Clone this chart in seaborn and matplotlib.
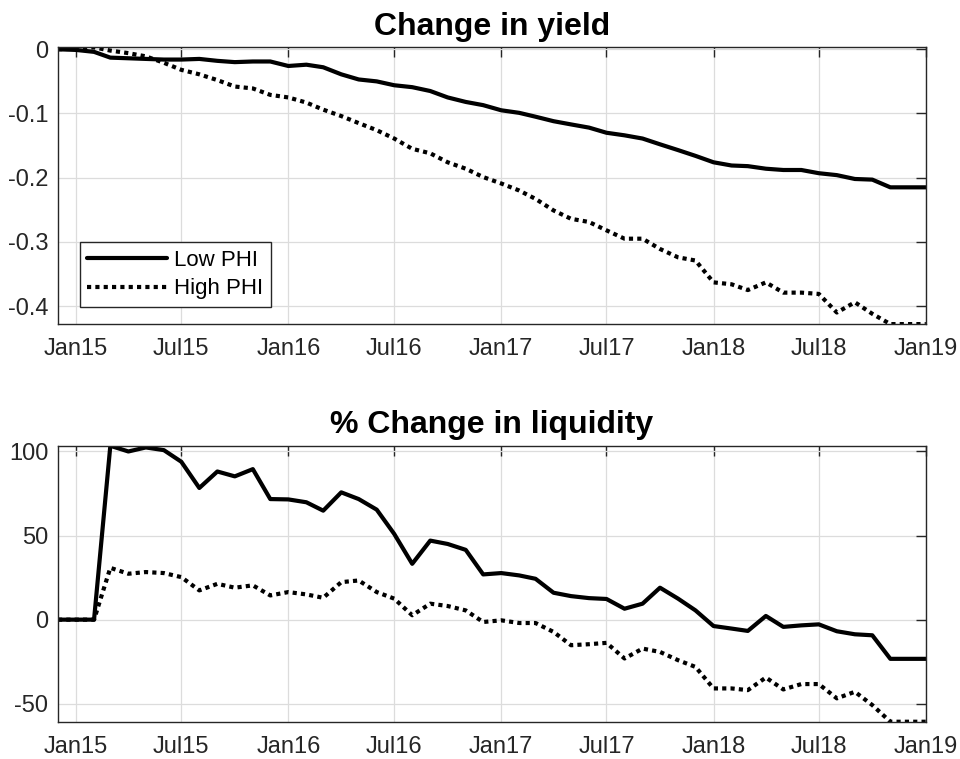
import pandas as pd
import numpy as np
import matplotlib
matplotlib.use("Agg")
import matplotlib.pyplot as plt
import matplotlib.dates as mdates
from matplotlib.ticker import FuncFormatter
import seaborn as sns

# ── Data (monthly, Dec 2014 .. Jan 2019) ─────────────────────────────────────
MONTHS = pd.date_range("2014-12-01", "2019-01-01", freq="MS")

yield_low = [
    0.000, -0.001, -0.004, -0.013, -0.014, -0.015, -0.016, -0.016, -0.015, -0.018,
    -0.020, -0.019, -0.019, -0.026, -0.024, -0.028, -0.039, -0.047, -0.050, -0.056,
    -0.059, -0.065, -0.075, -0.082, -0.087, -0.095, -0.099, -0.105, -0.112, -0.117,
    -0.122, -0.130, -0.134, -0.139, -0.148, -0.157, -0.166, -0.176, -0.181, -0.182,
    -0.186, -0.188, -0.188, -0.193, -0.196, -0.202, -0.203, -0.215, -0.215, -0.215,
]
yield_high = [
    0.000, 0.001, 0.003, -0.002, -0.006, -0.011, -0.021, -0.032, -0.039, -0.048,
    -0.058, -0.061, -0.071, -0.075, -0.083, -0.094, -0.104, -0.115, -0.126, -0.139,
    -0.155, -0.162, -0.176, -0.186, -0.199, -0.209, -0.220, -0.233, -0.251, -0.264,
    -0.269, -0.282, -0.295, -0.295, -0.311, -0.324, -0.329, -0.363, -0.366, -0.375,
    -0.363, -0.379, -0.379, -0.381, -0.410, -0.394, -0.412, -0.428, -0.428, -0.428,
]
liq_low = [
    0.0, 0.0, 0.0, 103.4, 100.0, 102.4, 100.8, 93.9, 78.3, 88.1,
    85.2, 89.5, 71.7, 71.5, 69.8, 64.8, 75.7, 71.7, 65.4, 51.0,
    33.2, 47.0, 45.0, 41.5, 26.9, 27.7, 26.3, 24.3, 16.0, 14.0,
    12.8, 12.3, 6.5, 9.5, 19.0, 12.5, 5.5, -3.8, -5.3, -6.7,
    2.2, -4.3, -3.4, -2.8, -6.9, -8.7, -9.3, -23.3, -23.3, -23.3,
]
liq_high = [
    0.0, 0.0, 0.0, 30.8, 27.3, 28.3, 27.7, 25.3, 17.4, 21.3,
    19.0, 20.4, 14.4, 16.4, 15.0, 13.0, 22.3, 23.3, 16.4, 12.5,
    2.6, 9.5, 8.1, 5.5, -1.4, -0.4, -2.0, -2.0, -7.3, -15.2,
    -14.6, -13.8, -23.1, -17.2, -19.2, -24.1, -28.1, -40.9, -40.9, -41.9,
    -34.4, -41.5, -38.3, -38.3, -46.8, -42.9, -50.8, -60.7, -60.7, -60.7,
]

SERIES = ["Low PHI", "High PHI"]
DASHES = {"Low PHI": "", "High PHI": (1, 1)}

AX_COLOR = "#262626"
GRID_COLOR = "#dcdcdc"


def _long(low, high):
    return pd.DataFrame({
        "date": list(MONTHS) * 2,
        "value": list(low) + list(high),
        "group": [SERIES[0]] * len(MONTHS) + [SERIES[1]] * len(MONTHS),
    })


sns.set_style("white")
plt.rcParams.update({
    "font.family": ["Liberation Sans", "DejaVu Sans"],
    "axes.unicode_minus": False,
    "axes.edgecolor": AX_COLOR,
    "axes.linewidth": 1.0,
    "xtick.color": AX_COLOR,
    "ytick.color": AX_COLOR,
    "text.color": "black",
})

fig = plt.figure(figsize=(9.6, 7.59), dpi=100)
ax1 = fig.add_axes([0.0604, 0.573, 0.904, 0.3646])
ax2 = fig.add_axes([0.0604, 0.0491, 0.904, 0.3636])

panels = [
    (ax1, _long(yield_low, yield_high), "Change in yield", [0, -0.1, -0.2, -0.3, -0.4]),
    (ax2, _long(liq_low, liq_high), "% Change in liquidity", [100, 50, 0, -50]),
]

for ax, df, title, yticks in panels:
    sns.lineplot(data=df, x="date", y="value", style="group",
                 dashes=DASHES, color="black", linewidth=3,
                 ax=ax, legend=(ax is ax1))
    ax.set_xlim(MONTHS[0], MONTHS[-1])
    ax.set_ylim(df["value"].min(), df["value"].max())
    ax.set_yticks(yticks)
    ax.yaxis.set_major_formatter(FuncFormatter(lambda v, p: f"{v:g}"))
    ax.xaxis.set_major_locator(mdates.MonthLocator(bymonth=[1, 7]))
    ax.xaxis.set_major_formatter(mdates.DateFormatter("%b%y"))
    ax.set_xlabel("")
    ax.set_ylabel("")
    ax.grid(True, color=GRID_COLOR, linewidth=0.9)
    ax.tick_params(direction="in", length=7, width=1, top=True, right=True,
                   labelsize=17)
    ax.tick_params(axis="x", pad=10)
    ax.tick_params(axis="y", pad=7)
    for s in ax.spines.values():
        s.set_visible(True)
    ax.set_title(title, fontsize=23, fontweight="bold", pad=9)

leg = ax1.legend(loc="lower left", bbox_to_anchor=(0.025, 0.061),
                 borderaxespad=0, fontsize=16, handlelength=3.6,
                 handletextpad=0.3, labelspacing=0.35, borderpad=0.35,
                 fancybox=False, framealpha=1, edgecolor=AX_COLOR)
leg.get_frame().set_linewidth(1.0)

fig.savefig("out.png", dpi=100, facecolor="white")
